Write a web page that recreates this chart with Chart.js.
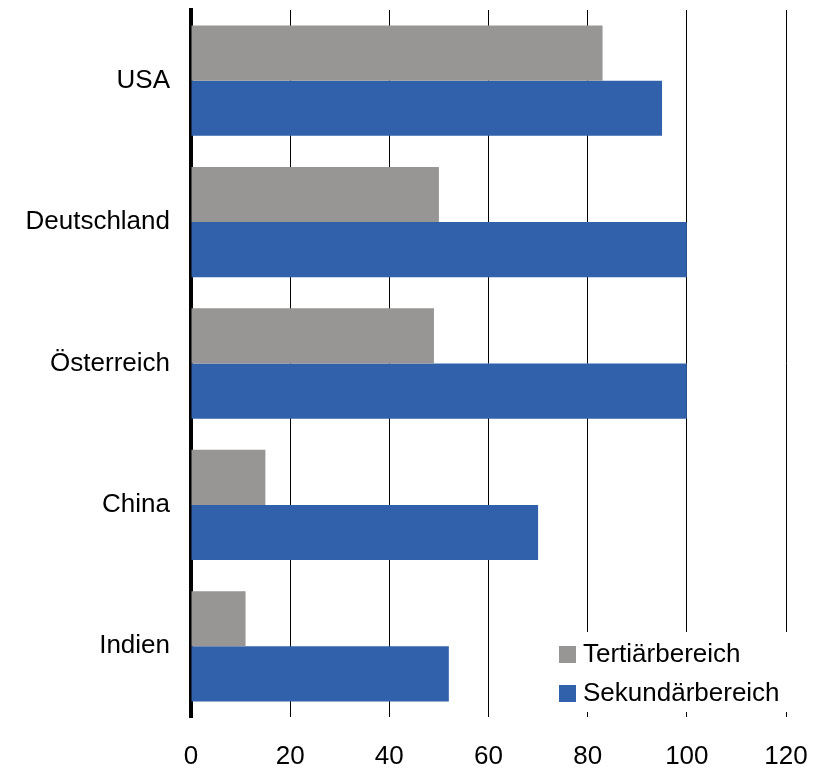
<!DOCTYPE html>
<html>
<head>
<meta charset="utf-8">
<script src="https://cdn.jsdelivr.net/npm/chart.js@4"></script>
<style>
  html, body { margin: 0; padding: 0; background: #fff; }
  #wrap { width: 818px; height: 768px; }
</style>
</head>
<body>
<div id="wrap"><canvas id="chart"></canvas></div>
<script>
const countries = ['USA', 'Deutschland', 'Österreich', 'China', 'Indien'];
const tertiaer = [83, 50, 49, 15, 11];
const sekundaer = [95, 100, 100, 70, 52];
const xTicks = [0, 20, 40, 60, 80, 100, 120];

const FONT = 'Liberation Sans, Arial, sans-serif';

// legend drawn inside the plot, bottom right, on a white box
const boxLegend = {
    id: 'boxLegend',
    afterDraw(chart) {
        const ctx = chart.ctx;
        ctx.save();
        ctx.fillStyle = '#ffffff';
        ctx.fillRect(548, 632, 252, 80);
        ctx.font = '26px ' + FONT;
        ctx.textBaseline = 'middle';
        chart.data.datasets.forEach((ds, i) => {
            const y = 654 + i * 39;
            ctx.fillStyle = ds.backgroundColor;
            ctx.fillRect(559, y - 8, 17, 17);
            ctx.fillStyle = '#000';
            ctx.fillText(ds.label, 583, y + 1);
        });
        ctx.restore();
    }
};

function noPad(scale) {
    scale.paddingTop = 0;
    scale.paddingBottom = 0;
    scale.paddingLeft = 0;
    scale.paddingRight = 0;
}

new Chart(document.getElementById('chart'), {
    type: 'bar',
    data: {
        labels: countries,
        datasets: [{
            label: 'Tertiärbereich',
            data: tertiaer,
            backgroundColor: '#979695'
        }, {
            label: 'Sekundärbereich',
            data: sekundaer,
            backgroundColor: '#3261ab'
        }]
    },
    options: {
        indexAxis: 'y',
        responsive: true,
        maintainAspectRatio: false,
        animation: false,
        layout: { padding: { top: 10, right: 32, bottom: 0, left: 0 } },
        plugins: {
            legend: { display: false },
            tooltip: { enabled: false }
        },
        datasets: {
            bar: { categoryPercentage: 0.78, barPercentage: 1.0 }
        },
        scales: {
            x: {
                min: 0,
                max: 120,
                afterBuildTicks: scale => { scale.ticks = xTicks.map(v => ({ value: v })); },
                afterFit: scale => { scale.height = 51; noPad(scale); },
                grid: { color: '#000', lineWidth: 1, drawTicks: false },
                border: { display: false },
                ticks: { color: '#000', padding: 24, font: { family: FONT, size: 26 } }
            },
            y: {
                z: 1,
                afterFit: scale => { scale.width = 191; noPad(scale); },
                grid: { display: false, drawTicks: false },
                border: { display: true, color: '#000', width: 4 },
                ticks: { color: '#000', padding: 21, font: { family: FONT, size: 26 } }
            }
        }
    },
    plugins: [boxLegend]
});
</script>
</body>
</html>
